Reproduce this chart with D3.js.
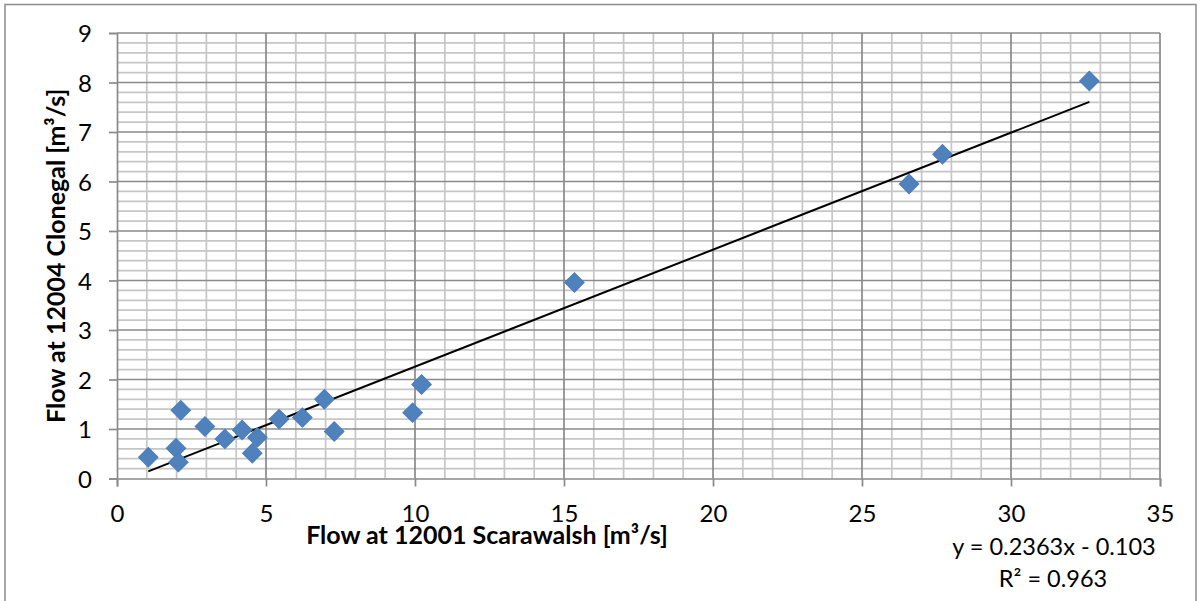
<!DOCTYPE html>
<html>
<head>
<meta charset="utf-8">
<script src="https://cdn.jsdelivr.net/npm/d3@7"></script>
<style>
  html, body { margin: 0; padding: 0; background: #fff; }
  svg { display: block; font-family: Lato, "Open Sans", sans-serif; }
</style>
</head>
<body>
<svg id="chart" width="1203" height="601"></svg>
<script>
// ---- data ----
const scarawalsh = [1.05, 1.98, 2.06, 2.14, 2.95, 3.62, 4.20, 4.54, 4.71, 5.44, 6.22, 6.96, 7.29, 9.92, 10.22, 15.35, 26.58, 27.70, 32.63];
const clonegal   = [0.43, 0.61, 0.33, 1.38, 1.05, 0.80, 0.98, 0.51, 0.83, 1.20, 1.23, 1.60, 0.95, 1.33, 1.90, 3.96, 5.95, 6.55, 8.03];
const xTicks = [0, 5, 10, 15, 20, 25, 30, 35];
const yTicks = [0, 1, 2, 3, 4, 5, 6, 7, 8, 9];
const trendSlope = 0.2363;
const trendIntercept = -0.103;
const equationText = "y = 0.2363x - 0.103";
const r2Value = "0.963";
const xTitle = "Flow at 12001 Scarawalsh [m³/s]";
const yTitle = "Flow at 12004 Clonegal [m³/s]";

// ---- layout ----
const svg = d3.select("#chart");
const pLeft = 117, pRight = 1160, pTop = 33, pBottom = 478.5;
const x = d3.scaleLinear().domain([0, 35]).range([pLeft, pRight]);
const y = d3.scaleLinear().domain([0, 9]).range([pBottom, pTop]);

// outer chart border
svg.append("rect").attr("x", 5).attr("y", 4.5).attr("width", 1191).attr("height", 610)
  .attr("fill", "none").attr("stroke", "#8c8c8c").attr("stroke-width", 1.5);

// minor gridlines
const g = svg.append("g");
const minorX = d3.range(1, 36).filter(v => v % 5 !== 0);
const minorY = d3.range(1, 46).map(v => v / 5).filter(v => Math.abs(v - Math.round(v)) > 1e-6);
g.selectAll("line.mx").data(minorX).join("line")
  .attr("x1", d => x(d)).attr("x2", d => x(d)).attr("y1", pTop).attr("y2", pBottom)
  .attr("stroke", "#c6c6c6").attr("stroke-width", 1.7);
g.selectAll("line.my").data(minorY).join("line")
  .attr("x1", pLeft).attr("x2", pRight).attr("y1", d => y(d)).attr("y2", d => y(d))
  .attr("stroke", "#c6c6c6").attr("stroke-width", 1.7);
// major gridlines
g.selectAll("line.Mx").data(xTicks.slice(1)).join("line")
  .attr("x1", d => x(d)).attr("x2", d => x(d)).attr("y1", pTop).attr("y2", pBottom)
  .attr("stroke", "#8a8a8a").attr("stroke-width", 1.7);
g.selectAll("line.My").data(yTicks.slice(1)).join("line")
  .attr("x1", pLeft).attr("x2", pRight).attr("y1", d => y(d)).attr("y2", d => y(d))
  .attr("stroke", "#8a8a8a").attr("stroke-width", 1.7);

// axes
const xAxis = d3.axisBottom(x).tickValues(xTicks).tickSize(8).tickPadding(18).tickFormat(d3.format("d"));
const yAxis = d3.axisLeft(y).tickValues(yTicks).tickSize(8).tickPadding(17).tickFormat(d3.format("d"));
const gx = svg.append("g").attr("transform", `translate(0,${pBottom})`).call(xAxis);
const gy = svg.append("g").attr("transform", `translate(${pLeft},0)`).call(yAxis);
[gx, gy].forEach(a => {
  a.select(".domain").attr("stroke", "#8a8a8a").attr("stroke-width", 1.7);
  a.selectAll(".tick line").attr("stroke", "#8a8a8a").attr("stroke-width", 1.7);
  a.selectAll(".tick text").attr("fill", "#000").style("font-size", "24px").style("font-family", "Lato, sans-serif");
});
gx.selectAll(".tick text").attr("dy", null).attr("y", 43.5);
gy.selectAll(".tick text").attr("dy", "0.36em");

// trendline
const xmin = d3.min(scarawalsh), xmax = d3.max(scarawalsh);
svg.append("line")
  .attr("x1", x(xmin)).attr("y1", y(trendSlope * xmin + trendIntercept))
  .attr("x2", x(xmax)).attr("y2", y(trendSlope * xmax + trendIntercept))
  .attr("stroke", "#000").attr("stroke-width", 2);

// data points (diamonds)
const pts = scarawalsh.map((v, i) => [v, clonegal[i]]);
const sym = d3.symbol().type(d3.symbolSquare).size(190);
svg.append("g").selectAll("path").data(pts).join("path")
  .attr("d", sym)
  .attr("transform", d => `translate(${x(d[0])},${y(d[1])}) rotate(45)`)
  .attr("fill", "#4f81bd").attr("stroke", "#4a7ebb").attr("stroke-width", 1);

// axis titles
svg.append("text").attr("x", 487).attr("y", 544).attr("text-anchor", "middle")
  .style("font-size", "25px").style("font-weight", "bold").text(xTitle);
svg.append("text").attr("transform", `translate(65,${(pTop + pBottom) / 2}) rotate(-90)`)
  .attr("text-anchor", "middle").style("font-size", "25px").style("font-weight", "bold").text(yTitle);

// trendline label
svg.append("text").attr("x", 1054).attr("y", 555).attr("text-anchor", "middle")
  .style("font-size", "23.5px").text(equationText);
svg.append("text").attr("x", 1053).attr("y", 587).attr("text-anchor", "middle")
  .style("font-size", "23.5px").text(`R² = ${r2Value}`);
</script>
</body>
</html>
